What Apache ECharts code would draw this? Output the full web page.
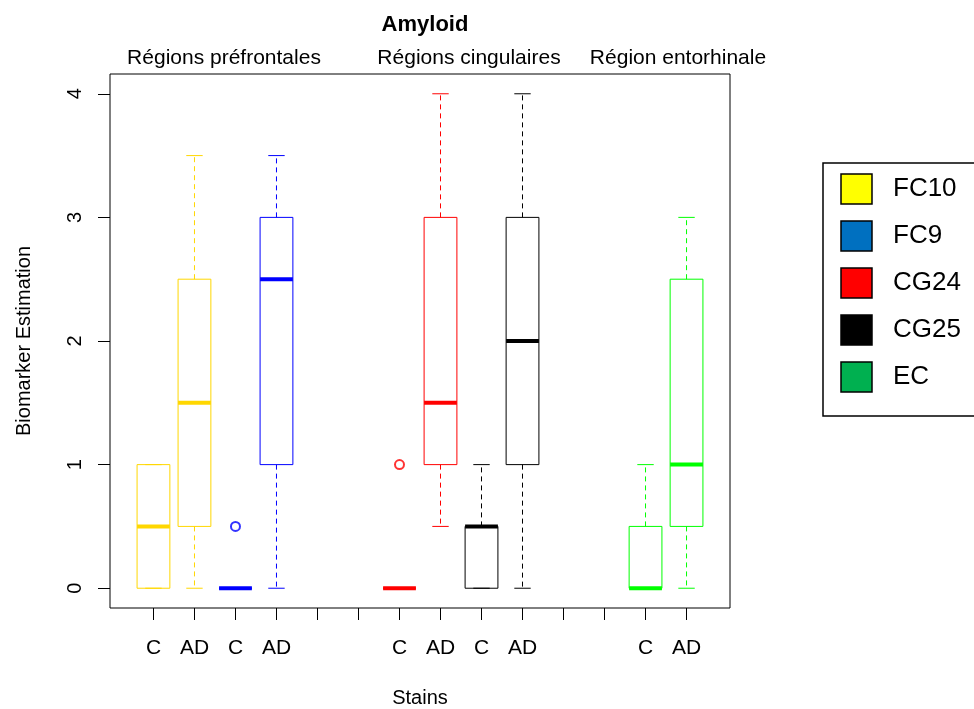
<!DOCTYPE html>
<html>
<head>
<meta charset="utf-8">
<script src="https://cdn.jsdelivr.net/npm/echarts@6.0.0/dist/echarts.min.js"></script>
<style>
  html, body { margin: 0; padding: 0; background: #fff; }
  #chart { width: 974px; height: 709px; }
</style>
</head>
<body>
<div id="chart"></div>
<script>
// labels under each x position (1..14), empty slots have no box
const stainLabels = ['C', 'AD', 'C', 'AD', '', '', 'C', 'AD', 'C', 'AD', '', '', 'C', 'AD'];

// one entry per box
const boxPositions = [1, 2, 3, 4, 7, 8, 9, 10, 13, 14];
const boxMin = [0, 0, 0, 0, 0, 0.5, 0, 0, 0, 0];
const boxQ1 = [0, 0.5, 0, 1, 0, 1, 0, 1, 0, 0.5];
const boxMedian = [0.5, 1.5, 0, 2.5, 0, 1.5, 0.5, 2, 0, 1];
const boxQ3 = [1, 2.5, 0, 3, 0, 3, 0.5, 3, 0.5, 2.5];
const boxMax = [1, 3.5, 0, 3.5, 0, 4, 1, 4, 1, 3];
const boxColors = ['#FFD700', '#FFD700', '#0000FF', '#0000FF', '#FF0000', '#FF0000', '#000000', '#000000', '#00FF00', '#00FF00'];

// outliers
const outlierX = [3, 7];
const outlierY = [0.5, 1];
const outlierColors = ['#0000FF', '#FF0000'];

const yTicks = [0, 1, 2, 3, 4];
const regionTitles = ['Régions préfrontales', 'Régions cingulaires', 'Région entorhinale'];

const legendNames = ['FC10', 'FC9', 'CG24', 'CG25', 'EC'];
const legendColors = ['#FFFF00', '#0070C0', '#FF0000', '#000000', '#00B050'];

const FONT = '"Liberation Sans", Arial, sans-serif';

const chart = echarts.init(document.getElementById('chart'), null, { renderer: 'canvas' });

const xPositions = stainLabels.map((_, i) => i + 1);
const boxData = boxPositions.map((p, i) => [p, boxMin[i], boxQ1[i], boxMedian[i], boxQ3[i], boxMax[i]]);

function renderBox(params, api) {
  const x = api.value(0);
  const lo = api.coord([x, api.value(1)]);
  const q1 = api.coord([x, api.value(2)]);
  const med = api.coord([x, api.value(3)]);
  const q3 = api.coord([x, api.value(4)]);
  const hi = api.coord([x, api.value(5)]);
  const w = api.size([0.8, 0])[0];
  const cx = lo[0];
  const color = boxColors[params.dataIndex];
  const dash = { stroke: color, lineWidth: 1, lineDash: [5, 4] };
  const solid = { stroke: color, lineWidth: 1 };
  return {
    type: 'group',
    children: [
      { type: 'line', shape: { x1: cx, y1: q1[1], x2: cx, y2: lo[1] }, style: dash },
      { type: 'line', shape: { x1: cx, y1: q3[1], x2: cx, y2: hi[1] }, style: dash },
      { type: 'line', shape: { x1: cx - w / 4, y1: lo[1], x2: cx + w / 4, y2: lo[1] }, style: solid },
      { type: 'line', shape: { x1: cx - w / 4, y1: hi[1], x2: cx + w / 4, y2: hi[1] }, style: solid },
      { type: 'rect', shape: { x: cx - w / 2, y: q3[1], width: w, height: q1[1] - q3[1] },
        style: { fill: null, stroke: color, lineWidth: 1 } },
      { type: 'line', shape: { x1: cx - w / 2, y1: med[1], x2: cx + w / 2, y2: med[1] },
        style: { stroke: color, lineWidth: 4 } }
    ]
  };
}

const legendGraphics = [{
  type: 'rect',
  shape: { x: 823, y: 163, width: 160, height: 253 },
  style: { fill: '#fff', stroke: '#000', lineWidth: 1.5 }
}];
legendNames.forEach((name, i) => {
  const cy = 189 + i * 47;
  legendGraphics.push({
    type: 'rect',
    shape: { x: 841, y: cy - 15, width: 31, height: 30 },
    style: { fill: legendColors[i], stroke: '#000', lineWidth: 1.5 }
  });
  legendGraphics.push({
    type: 'text',
    x: 893, y: cy,
    style: { text: name, font: '26px ' + FONT, fill: '#000', verticalAlign: 'middle' }
  });
});

const regionCenters = [224, 469, 678];
const regionGraphics = regionTitles.map((t, i) => ({
  type: 'text',
  x: regionCenters[i], y: 58,
  style: { text: t, font: '21px ' + FONT, fill: '#000', align: 'center', verticalAlign: 'middle' }
}));

const option = {
  backgroundColor: '#fff',
  animation: false,
  title: {
    text: 'Amyloid',
    left: 420,
    top: 9,
    textAlign: 'center',
    textStyle: { fontFamily: FONT, fontSize: 22, fontWeight: 'bold', color: '#000' }
  },
  grid: {
    left: 110, right: 244, top: 74, bottom: 101,
    show: true, borderColor: '#000', borderWidth: 1,
    containLabel: false,
    outerBoundsMode: 'none'
  },
  xAxis: {
    type: 'value',
    min: -0.06, max: 15.06,
    name: 'Stains',
    nameLocation: 'middle',
    nameGap: 80,
    nameTextStyle: { fontFamily: FONT, fontSize: 20, color: '#000' },
    axisLine: { show: false, onZero: false },
    splitLine: { show: false },
    axisTick: { show: true, customValues: xPositions, length: 12, lineStyle: { color: '#000' } },
    axisLabel: {
      customValues: xPositions,
      formatter: v => stainLabels[Math.round(v) - 1] || '',
      margin: 30,
      fontFamily: FONT, fontSize: 21, color: '#000'
    }
  },
  yAxis: {
    type: 'value',
    min: -0.16, max: 4.16,
    name: 'Biomarker Estimation',
    nameLocation: 'middle',
    nameGap: 76,
    nameTextStyle: { fontFamily: FONT, fontSize: 20, color: '#000' },
    axisLine: { show: false, onZero: false },
    splitLine: { show: false },
    axisTick: { show: true, customValues: yTicks, length: 12, lineStyle: { color: '#000' } },
    axisLabel: {
      customValues: yTicks,
      rotate: 90,
      margin: 25,
      fontFamily: FONT, fontSize: 20, color: '#000'
    }
  },
  graphic: regionGraphics.concat(legendGraphics),
  series: [
    {
      type: 'custom',
      renderItem: renderBox,
      data: boxData,
      encode: { x: 0, y: [1, 2, 3, 4, 5] },
      clip: false
    },
    {
      type: 'scatter',
      symbol: 'emptyCircle',
      symbolSize: 9,
      data: outlierX.map((x, i) => ({
        value: [x, outlierY[i]],
        itemStyle: { color: outlierColors[i], borderColor: outlierColors[i], borderWidth: 1.3 }
      }))
    }
  ]
};

chart.setOption(option);
</script>
</body>
</html>
